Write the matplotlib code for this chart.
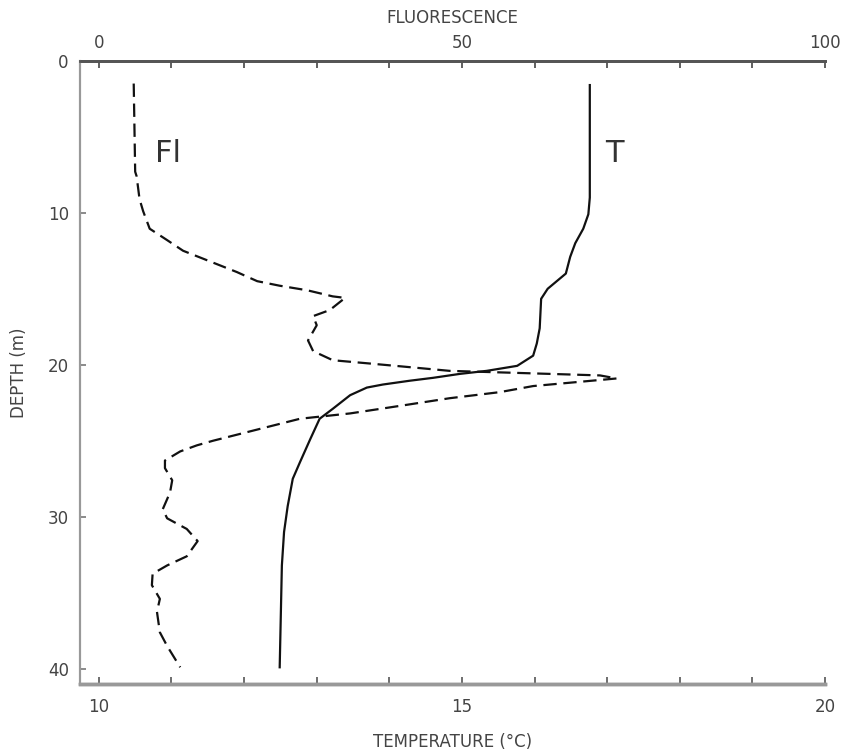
from matplotlib import pyplot as plt

# temperature profile (deg C) vs depth (m)
t_depth = [1.6, 9.0, 10.1, 11.05, 12.0, 12.9, 14.0, 15.0, 15.66, 17.6, 18.6, 19.4, 20.07,
           20.4, 20.6, 20.86, 21.05, 21.3, 21.5, 22.0, 22.9, 23.55, 24.9, 26.4, 27.5,
           29.3, 31.0, 33.2, 39.9]
t_temp = [16.76, 16.76, 16.74, 16.67, 16.56, 16.49, 16.43, 16.18, 16.09, 16.07, 16.03, 15.98, 15.76,
          15.34, 14.97, 14.60, 14.28, 13.91, 13.69, 13.46, 13.22, 13.04, 12.91, 12.77, 12.67,
          12.60, 12.55, 12.52, 12.49]

# fluorescence profile vs depth (m)
f_depth = [1.5, 7.3, 7.6, 9.1, 9.9, 11.05, 11.8, 12.5, 13.2, 13.9, 14.5, 14.8, 15.1, 15.5, 15.6,
           16.4, 16.8, 17.4, 18.4, 19.1, 19.7, 19.9, 20.1, 20.4, 20.5, 20.6, 20.7, 20.9,
           21.1, 21.4, 21.8, 22.2, 22.7, 23.2, 23.55, 25.0, 25.3, 25.7, 26.3, 26.8, 27.6,
           28.4, 29.5, 30.1, 30.8, 31.6, 32.6, 33.2, 33.75, 34.5, 35.4, 36.25, 37.6, 38.5, 39.9]
f_fluo = [4.8, 5.0, 5.2, 5.6, 6.1, 7.0, 9.4, 11.6, 15.3, 19.0, 21.8, 24.9, 28.7, 32.2, 33.9,
          31.8, 29.5, 30.0, 28.8, 29.5, 32.2, 36.9, 41.5, 48.3, 55.2, 62.1, 69.0, 71.3,
          66.7, 59.8, 55.2, 48.3, 41.5, 34.6, 27.7, 15.7, 13.5, 11.2, 9.1, 9.1, 10.1,
          9.8, 8.8, 9.4, 12.1, 13.6, 12.1, 9.4, 7.4, 7.3, 8.4, 8.0, 8.4, 9.4, 11.2]

temp_ticks = [10, 11, 12, 13, 14, 15, 16, 17, 18, 19, 20]
temp_labels = ['10', '', '', '', '', '15', '', '', '', '', '20']
fluo_ticks = [0, 10, 20, 30, 40, 50, 60, 70, 80, 90, 100]
fluo_labels = ['0', '', '', '', '', '50', '', '', '', '', '100']
depth_ticks = [0, 10, 20, 30, 40]

txt = '#444444'
tkSize = 12

fig = plt.figure(figsize=(8.41, 7.5), dpi=100)
ax = fig.add_axes([0.0951, 0.088, 0.886, 0.831])

ax.plot(t_temp, t_depth, '-', color='#111111', linewidth=1.6)
ax.set_xlim(9.74, 20)
ax.set_ylim(41, 0)
ax.set_xticks(temp_ticks)
ax.set_xticklabels(temp_labels, fontsize=tkSize, color=txt)
ax.set_yticks(depth_ticks)
ax.set_yticklabels([str(d) for d in depth_ticks], fontsize=tkSize, color=txt)
ax.tick_params(axis='x', direction='in', length=5, width=1.2, color='#555555', pad=10)
ax.tick_params(axis='y', direction='in', length=4, width=1.2, color='#777777', pad=8)
ax.set_xlabel('TEMPERATURE (°C)', fontsize=tkSize, color=txt, labelpad=12)
ax.set_ylabel('DEPTH (m)', fontsize=tkSize, color=txt, labelpad=14)

ax2 = ax.twiny()
ax2.plot(f_fluo, f_depth, color='#111111', linewidth=1.6, dashes=(6, 3))
ax2.set_xlim(-2.6, 100)
ax2.set_xticks(fluo_ticks)
ax2.set_xticklabels(fluo_labels, fontsize=tkSize, color=txt)
ax2.tick_params(axis='x', direction='in', length=5, width=1.2, color='#444444', pad=6)
ax2.set_xlabel('FLUORESCENCE', fontsize=tkSize, color=txt, labelpad=8)

for a in (ax, ax2):
    a.spines['right'].set_visible(False)
    a.spines['top'].set_color('#555555')
    a.spines['top'].set_linewidth(2)
    a.spines['bottom'].set_color('#999999')
    a.spines['bottom'].set_linewidth(2.5)
    a.spines['left'].set_color('#999999')
    a.spines['left'].set_linewidth(1.5)

ax.text(10.95, 6.1, 'Fl', fontsize=22, color='#333333', ha='center', va='center')
ax.text(17.1, 6.1, 'T', fontsize=22, color='#333333', ha='center', va='center')

plt.savefig('out.png', dpi=100)
